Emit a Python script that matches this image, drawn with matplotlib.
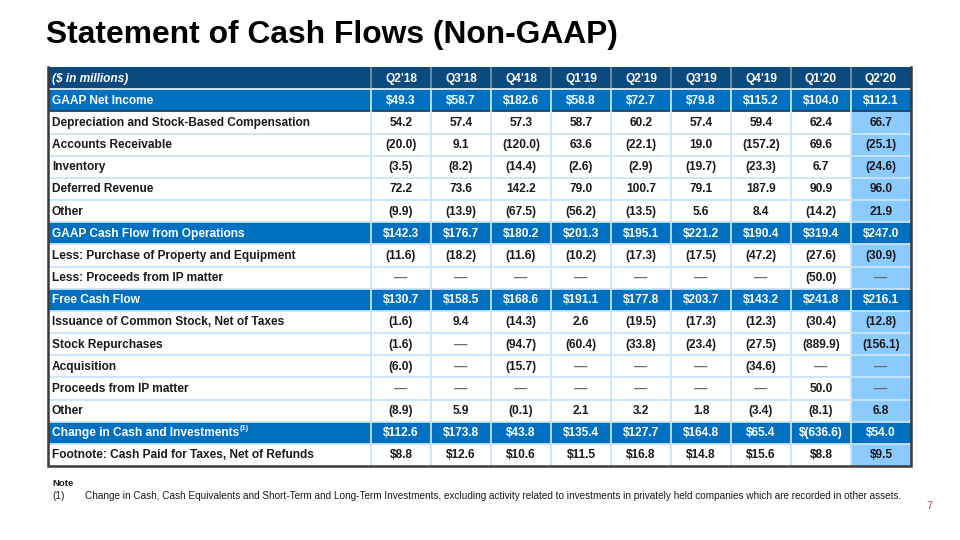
import matplotlib
matplotlib.use("Agg")
import matplotlib.pyplot as plt
from matplotlib.patches import Rectangle

plt.rcParams['font.family'] = ['Liberation Sans', 'DejaVu Sans']

title = "Statement of Cash Flows (Non-GAAP)"
unit_label = "($ in millions)"
quarters = ["Q2'18", "Q3'18", "Q4'18", "Q1'19", "Q2'19", "Q3'19", "Q4'19", "Q1'20", "Q2'20"]

row_labels = [
    "GAAP Net Income",
    "Depreciation and Stock-Based Compensation",
    "Accounts Receivable",
    "Inventory",
    "Deferred Revenue",
    "Other",
    "GAAP Cash Flow from Operations",
    "Less: Purchase of Property and Equipment",
    "Less: Proceeds from IP matter",
    "Free Cash Flow",
    "Issuance of Common Stock, Net of Taxes",
    "Stock Repurchases",
    "Acquisition",
    "Proceeds from IP matter",
    "Other",
    "Change in Cash and Investments",
    "Footnote: Cash Paid for Taxes, Net of Refunds",
]

D = "\u2014"
gaap_net_income = ["$49.3", "$58.7", "$182.6", "$58.8", "$72.7", "$79.8", "$115.2", "$104.0", "$112.1"]
depreciation_sbc = ["54.2", "57.4", "57.3", "58.7", "60.2", "57.4", "59.4", "62.4", "66.7"]
accounts_receivable = ["(20.0)", "9.1", "(120.0)", "63.6", "(22.1)", "19.0", "(157.2)", "69.6", "(25.1)"]
inventory = ["(3.5)", "(8.2)", "(14.4)", "(2.6)", "(2.9)", "(19.7)", "(23.3)", "6.7", "(24.6)"]
deferred_revenue = ["72.2", "73.6", "142.2", "79.0", "100.7", "79.1", "187.9", "90.9", "96.0"]
other_ops = ["(9.9)", "(13.9)", "(67.5)", "(56.2)", "(13.5)", "5.6", "8.4", "(14.2)", "21.9"]
cash_flow_ops = ["$142.3", "$176.7", "$180.2", "$201.3", "$195.1", "$221.2", "$190.4", "$319.4", "$247.0"]
capex = ["(11.6)", "(18.2)", "(11.6)", "(10.2)", "(17.3)", "(17.5)", "(47.2)", "(27.6)", "(30.9)"]
less_ip_proceeds = [D, D, D, D, D, D, D, "(50.0)", D]
free_cash_flow = ["$130.7", "$158.5", "$168.6", "$191.1", "$177.8", "$203.7", "$143.2", "$241.8", "$216.1"]
stock_issuance = ["(1.6)", "9.4", "(14.3)", "2.6", "(19.5)", "(17.3)", "(12.3)", "(30.4)", "(12.8)"]
repurchases = ["(1.6)", D, "(94.7)", "(60.4)", "(33.8)", "(23.4)", "(27.5)", "(889.9)", "(156.1)"]
acquisition = ["(6.0)", D, "(15.7)", D, D, D, "(34.6)", D, D]
ip_proceeds = [D, D, D, D, D, D, D, "50.0", D]
other_fin = ["(8.9)", "5.9", "(0.1)", "2.1", "3.2", "1.8", "(3.4)", "(8.1)", "6.8"]
change_in_cash = ["$112.6", "$173.8", "$43.8", "$135.4", "$127.7", "$164.8", "$65.4", "$(636.6)", "$54.0"]
taxes_paid = ["$8.8", "$12.6", "$10.6", "$11.5", "$16.8", "$14.8", "$15.6", "$8.8", "$9.5"]

rows = [gaap_net_income, depreciation_sbc, accounts_receivable, inventory, deferred_revenue,
        other_ops, cash_flow_ops, capex, less_ip_proceeds, free_cash_flow, stock_issuance,
        repurchases, acquisition, ip_proceeds, other_fin, change_in_cash, taxes_paid]
highlight_rows = [0, 6, 9, 15]
superscript_rows = {15: "(1)"}

note_title = "Note"
note_num = "(1)"
note_text = ("Change in Cash, Cash Equivalents and Short-Term and Long-Term Investments, excluding activity "
             "related to investments in privately held companies which are recorded in other assets.")
page_number = "7"

# ---- styles / layout ----
NAVY = "#0B4A7E"
BLUE = "#0070C0"
LIGHT = "#8CCBFF"
GRID = "#C9E4FB"
BORDER = "#3A3A3A"
TXT = "#1A1A1A"
DASH = "#6B6B6B"

W, H = 960, 540
fig = plt.figure(figsize=(9.6, 5.4), dpi=100)
ax = fig.add_axes([0, 0, 1, 1])
ax.set_xlim(0, W)
ax.set_ylim(H, 0)
ax.axis("off")

x0, xlab = 48, 371
colw = 60
y0 = 67
nrows = len(rows) + 1
rowh = (466 - y0) / nrows
ncol = len(quarters)
x1 = xlab + colw * ncol
fs = 8.55

ax.text(46, 35, title, fontsize=22.9, fontweight="bold", color="black", va="center", ha="left")

# header
ax.add_patch(Rectangle((x0, y0), x1 - x0, rowh, facecolor=NAVY, edgecolor="none"))
ax.text(x0 + 4, y0 + rowh / 2 + 0.5, unit_label, fontsize=fs, fontweight="bold", style="italic",
        color="white", va="center", ha="left")
for j, q in enumerate(quarters):
    cx = xlab + colw * (j + 0.5)
    ax.text(cx, y0 + rowh / 2 + 0.5, q, fontsize=fs, fontweight="bold", color="white", va="center", ha="center")
for j in range(ncol):
    xx = xlab + colw * j
    ax.plot([xx, xx], [y0, y0 + rowh], color="#6F8FAE", lw=1.3, solid_capstyle="butt")

renderer = fig.canvas.get_renderer()
for i, (lab, vals) in enumerate(zip(row_labels, rows)):
    ytop = y0 + rowh * (i + 1)
    yc = ytop + rowh / 2 + 0.5
    hl = i in highlight_rows
    if hl:
        ax.add_patch(Rectangle((x0, ytop), x1 - x0, rowh, facecolor=BLUE, edgecolor="none"))
    else:
        ax.add_patch(Rectangle((xlab + colw * (ncol - 1), ytop), colw, rowh, facecolor=LIGHT, edgecolor="none"))
    col = "white" if hl else TXT
    t = ax.text(x0 + 4, yc, lab, fontsize=fs, fontweight="bold", color=col, va="center", ha="left")
    if i in superscript_rows:
        bb = t.get_window_extent(renderer=renderer)
        xe = ax.transData.inverted().transform((bb.x1, 0))[0]
        ax.text(xe + 0.5, yc - 4.5, superscript_rows[i], fontsize=fs * 0.62, fontweight="bold",
                color=col, va="center", ha="left")
    for j, v in enumerate(vals):
        cx = xlab + colw * (j + 0.5)
        if v == D and not hl:
            ax.text(cx, yc, v, fontsize=fs + 1, fontweight="bold", color=DASH, va="center", ha="center")
        else:
            ax.text(cx, yc, v, fontsize=fs, fontweight="bold", color=col, va="center", ha="center")

# grid lines
for i in range(1, nrows):
    yy = y0 + rowh * i
    c = GRID
    lw = 1.3
    if i == 1 or i == 2:
        c = "#2B3E55" if i == 2 else "#E0ECF7"
    ax.plot([x0, x1], [yy, yy], color=c, lw=lw, solid_capstyle="butt", zorder=3)
for j in range(ncol):
    xx = xlab + colw * j
    ax.plot([xx, xx], [y0 + rowh, y0 + rowh * nrows], color=GRID, lw=1.3, solid_capstyle="butt", zorder=3)

# outer border
ax.plot([x0, x0, x1, x1], [y0, y0 + rowh * nrows, y0 + rowh * nrows, y0], color=BORDER, lw=1.8,
        solid_joinstyle="miter", zorder=4)

# notes
ax.text(52, 484, note_title, fontsize=6.8, fontweight="bold", color=TXT, va="center", ha="left")
ax.text(52, 496, note_num, fontsize=7.2, color=TXT, va="center", ha="left")
ax.text(85, 496, note_text, fontsize=7.2, color=TXT, va="center", ha="left")
ax.text(929, 506, page_number, fontsize=8, color="#E53935", va="center", ha="center")

fig.savefig("out.png", dpi=100)
